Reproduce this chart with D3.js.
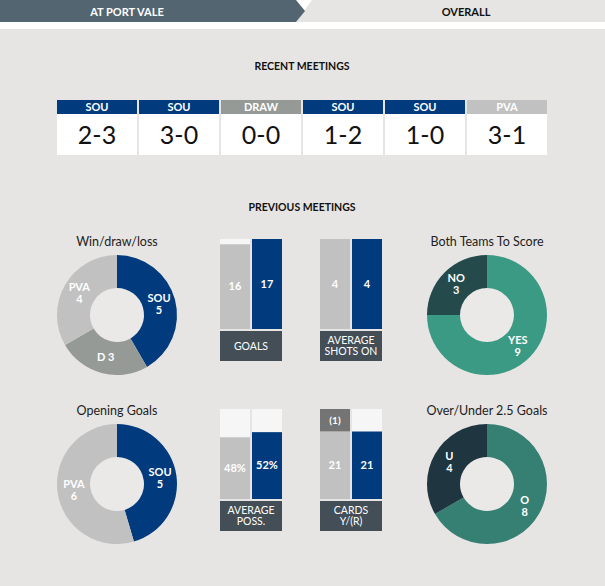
<!DOCTYPE html>
<html>
<head>
<meta charset="utf-8">
<script src="https://cdnjs.cloudflare.com/ajax/libs/d3/7.8.5/d3.min.js"></script>
<style>
  body { margin: 0; background: #fff; }
  svg { display: block; font-family: "Lato", "DejaVu Sans", sans-serif; }
</style>
</head>
<body>
<div id="chart"></div>
<script>
// tabs
var tabLabels = ["AT PORT VALE", "OVERALL"];

// recent meetings
var recentWinners = ["SOU", "SOU", "DRAW", "SOU", "SOU", "PVA"];
var recentScores = ["2-3", "3-0", "0-0", "1-2", "1-0", "3-1"];

// donuts
var wdlLabels = ["SOU", "D", "PVA"];
var wdlValues = [5, 3, 4];
var bttsLabels = ["YES", "NO"];
var bttsValues = [9, 3];
var openLabels = ["SOU", "PVA"];
var openValues = [5, 6];
var ouLabels = ["O", "U"];
var ouValues = [8, 4];

// bars (left = PVA, right = SOU)
var barTitles = [["GOALS"], ["AVERAGE", "SHOTS ON"], ["AVERAGE", "POSS."], ["CARDS", "Y/(R)"]];
var barLeft = [16, 4, 48, 21];
var barRight = [17, 4, 52, 21];
var barSuffix = ["", "", "%", ""];
var barMax = [17, 4, 70, 28];
var redCards = [null, null, null, 1];

var W = 605, H = 586;
var col = {
    navy: "#013b7e", draw: "#959a97", light: "#c1c1c1", bg: "#e6e5e3",
    tab: "#526571", box: "#434e56", barBg: "#f6f6f6", red: "#747474",
    yes: "#3b9a84", no: "#254a4c", over: "#367f73", under: "#1f3540", hole: "#ebe9e8"
};
var teamColor = {SOU: col.navy, DRAW: col.draw, PVA: col.light, D: col.draw};

var svg = d3.select("#chart").append("svg")
    .attr("width", W)
    .attr("height", H);

svg.append("rect").attr("width", W).attr("height", H).attr("fill", "#fff");
svg.append("rect").attr("y", 29).attr("width", W).attr("height", H - 29).attr("fill", col.bg);

/* onglets */
svg.append("polygon").attr("points", "312,0 605,0 605,22 296,22").attr("fill", col.bg);
svg.append("polygon").attr("points", "0,0 296,0 305,11 296,22 0,22").attr("fill", col.tab);
svg.selectAll("text.tab")
    .data(tabLabels)
    .enter().append("text")
    .attr("class", "tab")
    .attr("x", function(d, i) { return i == 0 ? 127 : 466; })
    .attr("y", 12)
    .attr("dy", "0.35em")
    .attr("text-anchor", "middle")
    .attr("font-size", 11)
    .attr("font-weight", "bold")
    .attr("fill", function(d, i) { return i == 0 ? "#fff" : "#111"; })
    .text(function(d) { return d; });

function sectionTitle(t, y) {
    svg.append("text")
        .attr("x", 302).attr("y", y).attr("dy", "0.35em")
        .attr("text-anchor", "middle")
        .attr("font-size", 10.5).attr("font-weight", "bold")
        .attr("fill", "#111")
        .text(t);
}
sectionTitle("RECENT MEETINGS", 66);
sectionTitle("PREVIOUS MEETINGS", 207);

/* recent meetings */
var xRecent = d3.scaleBand()
    .domain(d3.range(recentScores.length))
    .range([57, 547])
    .paddingInner(0.0244);

var games = svg.append("g").selectAll("g")
    .data(recentScores)
    .enter().append("g")
    .attr("transform", function(d, i) { return "translate(" + xRecent(i) + ",100)"; });

games.append("rect")
    .attr("width", xRecent.bandwidth()).attr("height", 14)
    .attr("fill", function(d, i) { return teamColor[recentWinners[i]]; });
games.append("rect")
    .attr("y", 14)
    .attr("width", xRecent.bandwidth()).attr("height", 41)
    .attr("fill", "#fff");
games.append("text")
    .attr("x", xRecent.bandwidth() / 2).attr("y", 7).attr("dy", "0.36em")
    .attr("text-anchor", "middle")
    .attr("font-size", 11).attr("font-weight", "bold").attr("fill", "#fff")
    .text(function(d, i) { return recentWinners[i]; });
games.append("text")
    .attr("x", xRecent.bandwidth() / 2).attr("y", 35).attr("dy", "0.36em")
    .attr("text-anchor", "middle")
    .attr("font-size", 25).attr("fill", "#111")
    .text(function(d) { return d; });

/* donuts */
var pie = d3.pie().sort(null);
var arc = d3.arc().innerRadius(27).outerRadius(60);

function donut(cx, cy, title, labels, values, colors, split) {
    var g = svg.append("g").attr("transform", "translate(" + cx + "," + cy + ")");
    g.append("text")
        .attr("y", -73).attr("dy", "0.35em")
        .attr("text-anchor", "middle")
        .attr("font-size", 12.5).attr("fill", "#222")
        .text(title);
    g.append("circle").attr("r", 27).attr("fill", col.hole);
    var arcs = g.selectAll("g.slice")
        .data(pie(values))
        .enter().append("g")
        .attr("class", "slice");
    arcs.append("path")
        .attr("d", arc)
        .attr("fill", function(d, i) { return colors[i]; });
    arcs.each(function(d, i) {
        var c = arc.centroid(d);
        var lines = split[i] ? [labels[i], String(values[i])] : [labels[i] + " " + values[i]];
        d3.select(this).selectAll("text")
            .data(lines)
            .enter().append("text")
            .attr("x", c[0])
            .attr("y", function(l, j) { return c[1] + (lines.length == 1 ? 0 : (j == 0 ? -6 : 6)); })
            .attr("dy", "0.35em")
            .attr("text-anchor", "middle")
            .attr("font-size", 11).attr("font-weight", "bold")
            .attr("fill", "#fff")
            .text(function(l) { return l; });
    });
}

donut(117, 315, "Win/draw/loss", wdlLabels, wdlValues, [col.navy, col.draw, col.light], [true, false, true]);
donut(487, 315, "Both Teams To Score", bttsLabels, bttsValues, [col.yes, col.no], [true, true]);
donut(117, 484, "Opening Goals", openLabels, openValues, [col.navy, col.light], [true, true]);
donut(487, 484, "Over/Under 2.5 Goals", ouLabels, ouValues, [col.over, col.under], [true, true]);

/* bars */
var barPos = [[220, 239], [320, 239], [220, 409], [320, 409]];
var barH = 90;
var xBar = d3.scaleBand().domain(["PVA", "SOU"]).range([0, 62]).paddingInner(0.0625);

barTitles.forEach(function(t, k) {
    var g = svg.append("g").attr("transform", "translate(" + barPos[k][0] + "," + barPos[k][1] + ")");
    var y = d3.scaleLinear().domain([0, barMax[k]]).range([barH, 0]);
    var vals = [{team: "PVA", v: barLeft[k], c: col.light}, {team: "SOU", v: barRight[k], c: col.navy}];

    g.selectAll("rect.bg")
        .data(vals)
        .enter().append("rect")
        .attr("class", "bg")
        .attr("x", function(d) { return xBar(d.team); })
        .attr("width", xBar.bandwidth())
        .attr("y", y(barMax[k])).attr("height", barH)
        .attr("fill", col.barBg);

    g.selectAll("rect.bar")
        .data(vals)
        .enter().append("rect")
        .attr("class", "bar")
        .attr("x", function(d) { return xBar(d.team); })
        .attr("width", xBar.bandwidth())
        .attr("y", function(d) { return y(d.v); })
        .attr("height", function(d) { return barH - y(d.v); })
        .attr("fill", function(d) { return d.c; });

    g.selectAll("text.val")
        .data(vals)
        .enter().append("text")
        .attr("class", "val")
        .attr("x", function(d) { return xBar(d.team) + xBar.bandwidth() / 2; })
        .attr("y", function(d) { return (y(d.v) + barH) / 2; })
        .attr("dy", "0.35em")
        .attr("text-anchor", "middle")
        .attr("font-size", 11).attr("font-weight", "bold").attr("fill", "#fff")
        .text(function(d) { return d.v + barSuffix[k]; });

    if (redCards[k] != null) {
        // red cards stacked on the PVA bar up to the top
        g.append("rect")
            .attr("x", xBar("PVA")).attr("width", xBar.bandwidth())
            .attr("y", y(barMax[k])).attr("height", y(barLeft[k]) - y(barMax[k]))
            .attr("fill", col.red);
        g.append("text")
            .attr("x", xBar("PVA") + xBar.bandwidth() / 2)
            .attr("y", (y(barMax[k]) + y(barLeft[k])) / 2).attr("dy", "0.35em")
            .attr("text-anchor", "middle")
            .attr("font-size", 10).attr("font-weight", "bold").attr("fill", "#fff")
            .text("(" + redCards[k] + ")");
    }

    g.append("rect")
        .attr("y", barH + 2).attr("width", 62).attr("height", 30)
        .attr("fill", col.box);
    g.selectAll("text.lab")
        .data(t)
        .enter().append("text")
        .attr("class", "lab")
        .attr("x", 31)
        .attr("y", function(d, i) { return barH + 17 + (t.length == 1 ? 0 : (i == 0 ? -5.75 : 5.75)); })
        .attr("dy", "0.35em")
        .attr("text-anchor", "middle")
        .attr("font-size", 10.5).attr("fill", "#fff")
        .text(function(d) { return d; });
});
</script>
</body>
</html>
